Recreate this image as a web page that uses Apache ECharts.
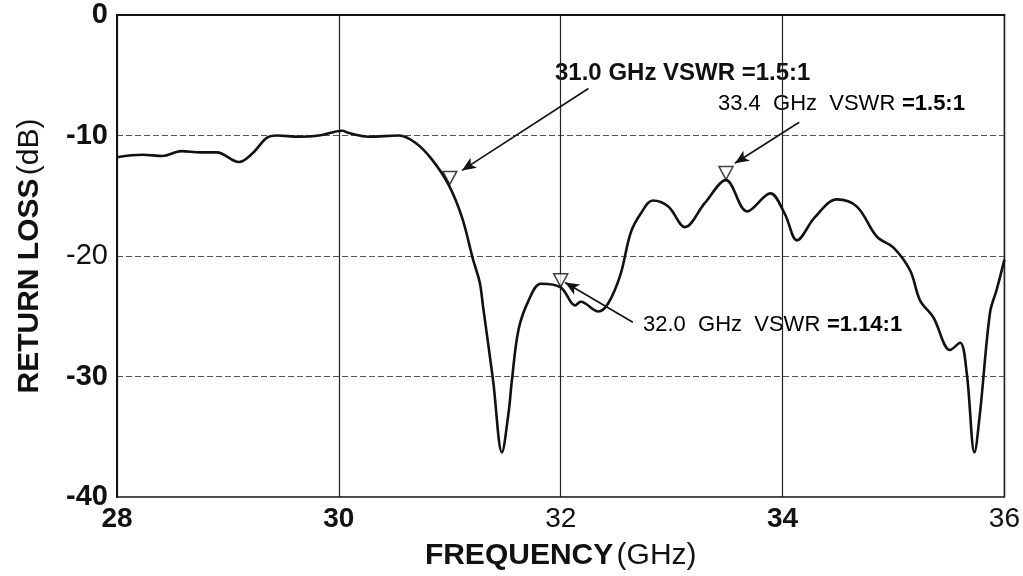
<!DOCTYPE html>
<html>
<head>
<meta charset="utf-8">
<script src="https://cdn.jsdelivr.net/npm/echarts@6/dist/echarts.min.js"></script>
<style>
    html, body { margin: 0; padding: 0; background: #fff; }
    #main { width: 1023px; height: 576px; }
</style>
</head>
<body>
<div id="main"></div>
<script>
// measured return loss curve (GHz, dB)
var freq = [28.00, 28.23, 28.41, 28.58, 28.75, 28.90, 29.10, 29.22, 29.35, 29.44,
            29.64, 29.82, 30.03, 30.09, 30.27, 30.54, 30.69, 30.84, 30.99, 31.11,
            31.21, 31.27, 31.30, 31.39, 31.47, 31.53, 31.56, 31.62, 31.71, 31.82,
            32.00, 32.13, 32.18, 32.34, 32.43, 32.54, 32.63, 32.72, 32.83, 32.97,
            33.12, 33.30, 33.49, 33.68, 33.89, 34.02, 34.13, 34.29, 34.49, 34.67,
            34.85, 35.00, 35.15, 35.24, 35.36, 35.51, 35.60, 35.66, 35.73, 35.78,
            35.87, 35.93, 36.00];
var returnLoss = [-11.8, -11.6, -11.7, -11.3, -11.4, -11.4, -12.2, -11.5, -10.2, -10.0,
                  -10.1, -10.0, -9.6, -9.8, -10.1, -10.0, -10.6, -12.0, -14.1, -16.8,
                  -20.3, -22.2, -24.2, -30.3, -36.3, -33.0, -30.3, -26.1, -23.7, -22.3,
                  -22.6, -24.1, -23.8, -24.6, -23.9, -21.5, -18.1, -16.5, -15.4, -15.9,
                  -17.6, -15.6, -13.7, -16.3, -14.8, -16.5, -18.7, -16.8, -15.3, -15.9,
                  -18.4, -19.3, -21.2, -23.7, -25.1, -27.8, -27.2, -29.7, -36.3, -33.0,
                  -24.7, -22.8, -20.3];

// marker triangles
var markerFreq = [31.0, 32.0, 33.49];
var markerLoss = [-14.1, -22.6, -13.7];

// annotation arrows: [from, to]
var arrows = [
    [[32.25, -6.1], [31.11, -12.9]],
    [[34.15, -8.9], [33.57, -12.3]],
    [[32.65, -25.5], [32.04, -22.2]]
];

var xTicks = {28: 'b', 30: 'b', 32: 'n', 34: 'b', 36: 'n'};
var yTicks = {0: 'b', '-10': 'b', '-20': 'n', '-30': 'b', '-40': 'b'};

function pairs(xs, ys) {
    var out = [];
    for (var i = 0; i < xs.length; ++i) {
        out.push([xs[i], ys[i]]);
    }
    return out;
}

var font = 'Liberation Sans, Arial, sans-serif';

function richStyle(size) {
    return {
        b: { fontFamily: font, fontSize: size, fontWeight: 'bold', color: '#111' },
        n: { fontFamily: font, fontSize: size, color: '#111' }
    };
}

var chart = echarts.init(document.getElementById('main'));
chart.setOption({
    animation: false,
    backgroundColor: '#fff',
    grid: {
        left: 117,
        right: 15,
        top: 15,
        bottom: 79,
        show: true,
        borderColor: '#111',
        borderWidth: 1.5
    },
    xAxis: {
        type: 'value',
        min: 28,
        max: 36,
        interval: 2,
        name: '{b|FREQUENCY} {n|(GHz)}',
        nameLocation: 'middle',
        nameGap: 44,
        nameTextStyle: { rich: richStyle(30) },
        axisLine: { lineStyle: { color: '#111', width: 2 } },
        axisTick: { show: false },
        axisLabel: {
            margin: 8,
            formatter: function (v) {
                return '{' + (xTicks[v] || 'n') + '|' + v + '}';
            },
            rich: richStyle(28)
        },
        splitLine: { show: true, lineStyle: { color: '#222', width: 1.2 } }
    },
    yAxis: {
        type: 'value',
        min: -40,
        max: 0,
        interval: 10,
        name: '{b|RETURN LOSS} {n|(dB)}',
        nameLocation: 'middle',
        nameGap: 72,
        nameTextStyle: { rich: richStyle(30) },
        axisLine: { show: true, lineStyle: { color: '#111', width: 2 } },
        axisTick: { show: false },
        axisLabel: {
            margin: 9,
            formatter: function (v) {
                return '{' + (yTicks[v] || 'b') + '|' + v + '}';
            },
            rich: richStyle(29)
        },
        splitLine: { show: true, lineStyle: { color: '#555', width: 1, type: [6, 3] } }
    },
    series: [{
        type: 'line',
        data: pairs(freq, returnLoss),
        smooth: 0.35,
        showSymbol: false,
        lineStyle: { color: '#111', width: 2.6 },
        markLine: {
            silent: true,
            symbol: ['none', 'arrow'],
            symbolSize: [9, 14],
            label: { show: false },
            lineStyle: { color: '#111', width: 1.6, type: 'solid' },
            data: arrows.map(function (a) {
                return [{ coord: a[0] }, { coord: a[1] }];
            })
        }
    }, {
        type: 'scatter',
        data: pairs(markerFreq, markerLoss),
        symbol: 'triangle',
        symbolRotate: 180,
        symbolSize: [14, 13],
        symbolOffset: [0, -7],
        itemStyle: { color: '#fff', borderColor: '#111', borderWidth: 1.5 },
        z: 5
    }],
    graphic: [{
        type: 'text',
        left: 555,
        top: 61,
        style: {
            text: '31.0 GHz VSWR =1.5:1',
            font: 'bold 24px ' + font,
            fill: '#111'
        }
    }, {
        type: 'text',
        left: 718,
        top: 93,
        style: {
            text: '{n|33.4  GHz  VSWR}  {b|=1.5:1}',
            rich: richStyle(22)
        }
    }, {
        type: 'text',
        left: 643,
        top: 314,
        style: {
            text: '{n|32.0  GHz  VSWR}  {b|=1.14:1}',
            rich: richStyle(22)
        }
    }]
});
</script>
</body>
</html>
